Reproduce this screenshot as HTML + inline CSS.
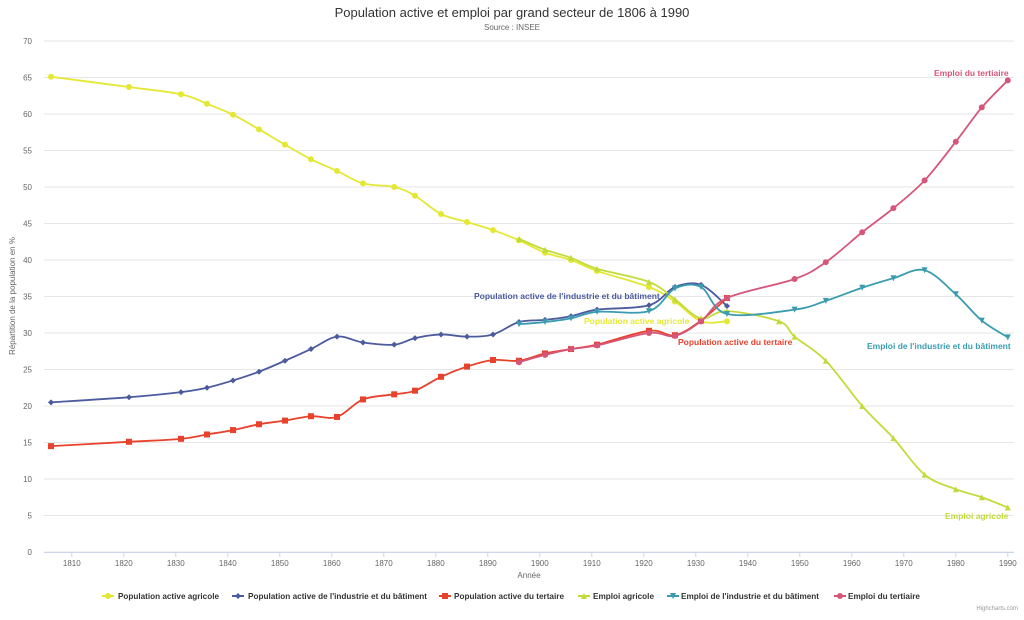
<!DOCTYPE html>
<html><head><meta charset="utf-8"><style>
body{margin:0;background:#fff;font-family:"Liberation Sans",sans-serif}
svg text{font-family:"Liberation Sans",sans-serif}
</style></head><body>
<svg id="s" width="1024" height="615" xmlns="http://www.w3.org/2000/svg">
<rect width="1024" height="615" fill="#fff"/>
<text x="512" y="17" text-anchor="middle" font-size="13" fill="#333">Population active et emploi par grand secteur de 1806 à 1990</text>
<text x="512" y="30" text-anchor="middle" font-size="8" fill="#666">Source : INSEE</text>
<text transform="translate(15,296) rotate(-90)" text-anchor="middle" font-size="8" fill="#666">Répartition de la population en %</text>
<text x="529" y="578" text-anchor="middle" font-size="8" fill="#666">Année</text>
<g id="grid"></g><g id="ser"></g>
<g font-size="8.5" font-weight="bold">
<text x="474" y="299" fill="#4c5a9e">Population active de l'industrie et du bâtiment</text>
<text x="584" y="324" fill="#e4e832">Population active agricole</text>
<text x="678" y="345" fill="#e8412c">Population active du tertaire</text>
<text x="867" y="349" fill="#3a9cb0">Emploi de l'industrie et du bâtiment</text>
<text x="934" y="76" fill="#d6567a">Emploi du tertiaire</text>
<text x="945" y="519" fill="#c3db3a">Emploi agricole</text>
</g>
<g id="leg" font-size="8.2" font-weight="bold" fill="#333"></g>
<text x="1018" y="610" text-anchor="end" font-size="6" fill="#999">Highcharts.com</text>
</svg>
<script>
var X=function(y){return 51+(y-1806)*5.2},Y=function(v){return 552-v*7.3};
var g=document.getElementById('grid'),h='';
for(var v=0;v<=70;v+=5){h+='<line x1="44" x2="1014" y1="'+Y(v)+'" y2="'+Y(v)+'" stroke="#e6e6e6"/>';h+='<text x="32" y="'+(Y(v)+3)+'" text-anchor="end" font-size="8" fill="#666">'+v+'</text>';}
h+='<line x1="44" x2="1014" y1="552.5" y2="552.5" stroke="#ccd6eb"/>';
for(var y=1810;y<=1990;y+=10){h+='<line x1="'+X(y)+'" x2="'+X(y)+'" y1="552" y2="557" stroke="#ccd6eb"/><text x="'+X(y)+'" y="566" text-anchor="middle" font-size="8" fill="#666">'+y+'</text>';}
g.innerHTML=h;
var S=[
['Population active agricole','#e4e832','c',[[1806,65.1],[1821,63.7],[1831,62.7],[1836,61.4],[1841,59.9],[1846,57.9],[1851,55.8],[1856,53.8],[1861,52.2],[1866,50.5],[1872,50],[1876,48.8],[1881,46.3],[1886,45.2],[1891,44.1],[1896,42.7],[1901,41],[1906,40],[1911,38.5],[1921,36.3],[1926,34.3],[1931,31.6],[1936,31.6]]],
['Population active de l\'industrie et du bâtiment','#4c5a9e','d',[[1806,20.5],[1821,21.2],[1831,21.9],[1836,22.5],[1841,23.5],[1846,24.7],[1851,26.2],[1856,27.8],[1861,29.5],[1866,28.7],[1872,28.4],[1876,29.3],[1881,29.8],[1886,29.5],[1891,29.8],[1896,31.5],[1901,31.8],[1906,32.3],[1911,33.2],[1921,33.8],[1926,36.3],[1931,36.6],[1936,33.7]]],
['Population active du tertaire','#e8412c','s',[[1806,14.5],[1821,15.1],[1831,15.5],[1836,16.1],[1841,16.7],[1846,17.5],[1851,18],[1856,18.6],[1861,18.5],[1866,20.9],[1872,21.6],[1876,22.1],[1881,24],[1886,25.4],[1891,26.3],[1896,26.2],[1901,27.2],[1906,27.8],[1911,28.4],[1921,30.3],[1926,29.7],[1931,31.7],[1936,34.8]]],
['Emploi agricole','#c3db3a','t',[[1896,42.9],[1901,41.4],[1906,40.3],[1911,38.8],[1921,37],[1926,34.6],[1931,32],[1936,33],[1946,31.6],[1949,29.5],[1955,26.2],[1962,20],[1968,15.6],[1974,10.6],[1980,8.6],[1985,7.5],[1990,6.1]]],
['Emploi de l\'industrie et du bâtiment','#3a9cb0','v',[[1896,31.2],[1901,31.5],[1906,32],[1911,32.9],[1921,33],[1926,36.1],[1931,36.3],[1936,32.6],[1949,33.2],[1955,34.4],[1962,36.2],[1968,37.5],[1974,38.6],[1980,35.3],[1985,31.7],[1990,29.4]]],
['Emploi du tertiaire','#d6567a','c',[[1896,26],[1901,27],[1906,27.8],[1911,28.3],[1921,30],[1926,29.6],[1931,31.6],[1936,34.8],[1949,37.4],[1955,39.7],[1962,43.8],[1968,47.1],[1974,50.9],[1980,56.2],[1985,60.9],[1990,64.6]]]];
function mk(t,x,y,c,r){r=r||3;
if(t=='c')return '<circle cx="'+x+'" cy="'+y+'" r="'+r+'" fill="'+c+'"/>';
if(t=='s')return '<rect x="'+(x-r)+'" y="'+(y-r)+'" width="'+2*r+'" height="'+2*r+'" fill="'+c+'"/>';
if(t=='d')return '<path d="M'+x+' '+(y-r)+'L'+(x+r)+' '+y+'L'+x+' '+(y+r)+'L'+(x-r)+' '+y+'Z" fill="'+c+'"/>';
if(t=='t')return '<path d="M'+x+' '+(y-r)+'L'+(x+r)+' '+(y+r)+'L'+(x-r)+' '+(y+r)+'Z" fill="'+c+'"/>';
return '<path d="M'+x+' '+(y+r)+'L'+(x+r)+' '+(y-r)+'L'+(x-r)+' '+(y-r)+'Z" fill="'+c+'"/>';}
var o='';
S.forEach(function(s){var p=s[3].map(function(d){return [X(d[0]),Y(d[1])]});
var d='M'+p[0][0]+' '+p[0][1];
for(var i=0;i<p.length-1;i++){var a=p[i-1]||p[i],b=p[i],c=p[i+1],e=p[i+2]||c;
d+='C'+(b[0]+(c[0]-a[0])/6)+' '+(b[1]+(c[1]-a[1])/6)+' '+(c[0]-(e[0]-b[0])/6)+' '+(c[1]-(e[1]-b[1])/6)+' '+c[0]+' '+c[1];}
o+='<path d="'+d+'" fill="none" stroke="'+s[1]+'" stroke-width="1.8"/>';
p.forEach(function(q){o+=mk(s[2],q[0],q[1],s[1])});});
document.getElementById('ser').innerHTML=o;
var lm=[108,238,445,584,673,840],lt=[118,248,454,593,681,848],lw=[101,179,110,61,138,72],l='';
S.forEach(function(s,i){var x=lm[i];l+='<line x1="'+(x-6)+'" x2="'+(x+6)+'" y1="596" y2="596" stroke="'+s[1]+'" stroke-width="2"/>'+mk(s[2],x,596,s[1],3)+'<text x="'+lt[i]+'" y="599" textLength="'+lw[i]+'" lengthAdjust="spacingAndGlyphs">'+s[0]+'</text>';});
document.getElementById('leg').innerHTML=l;
</script>
</body></html>
